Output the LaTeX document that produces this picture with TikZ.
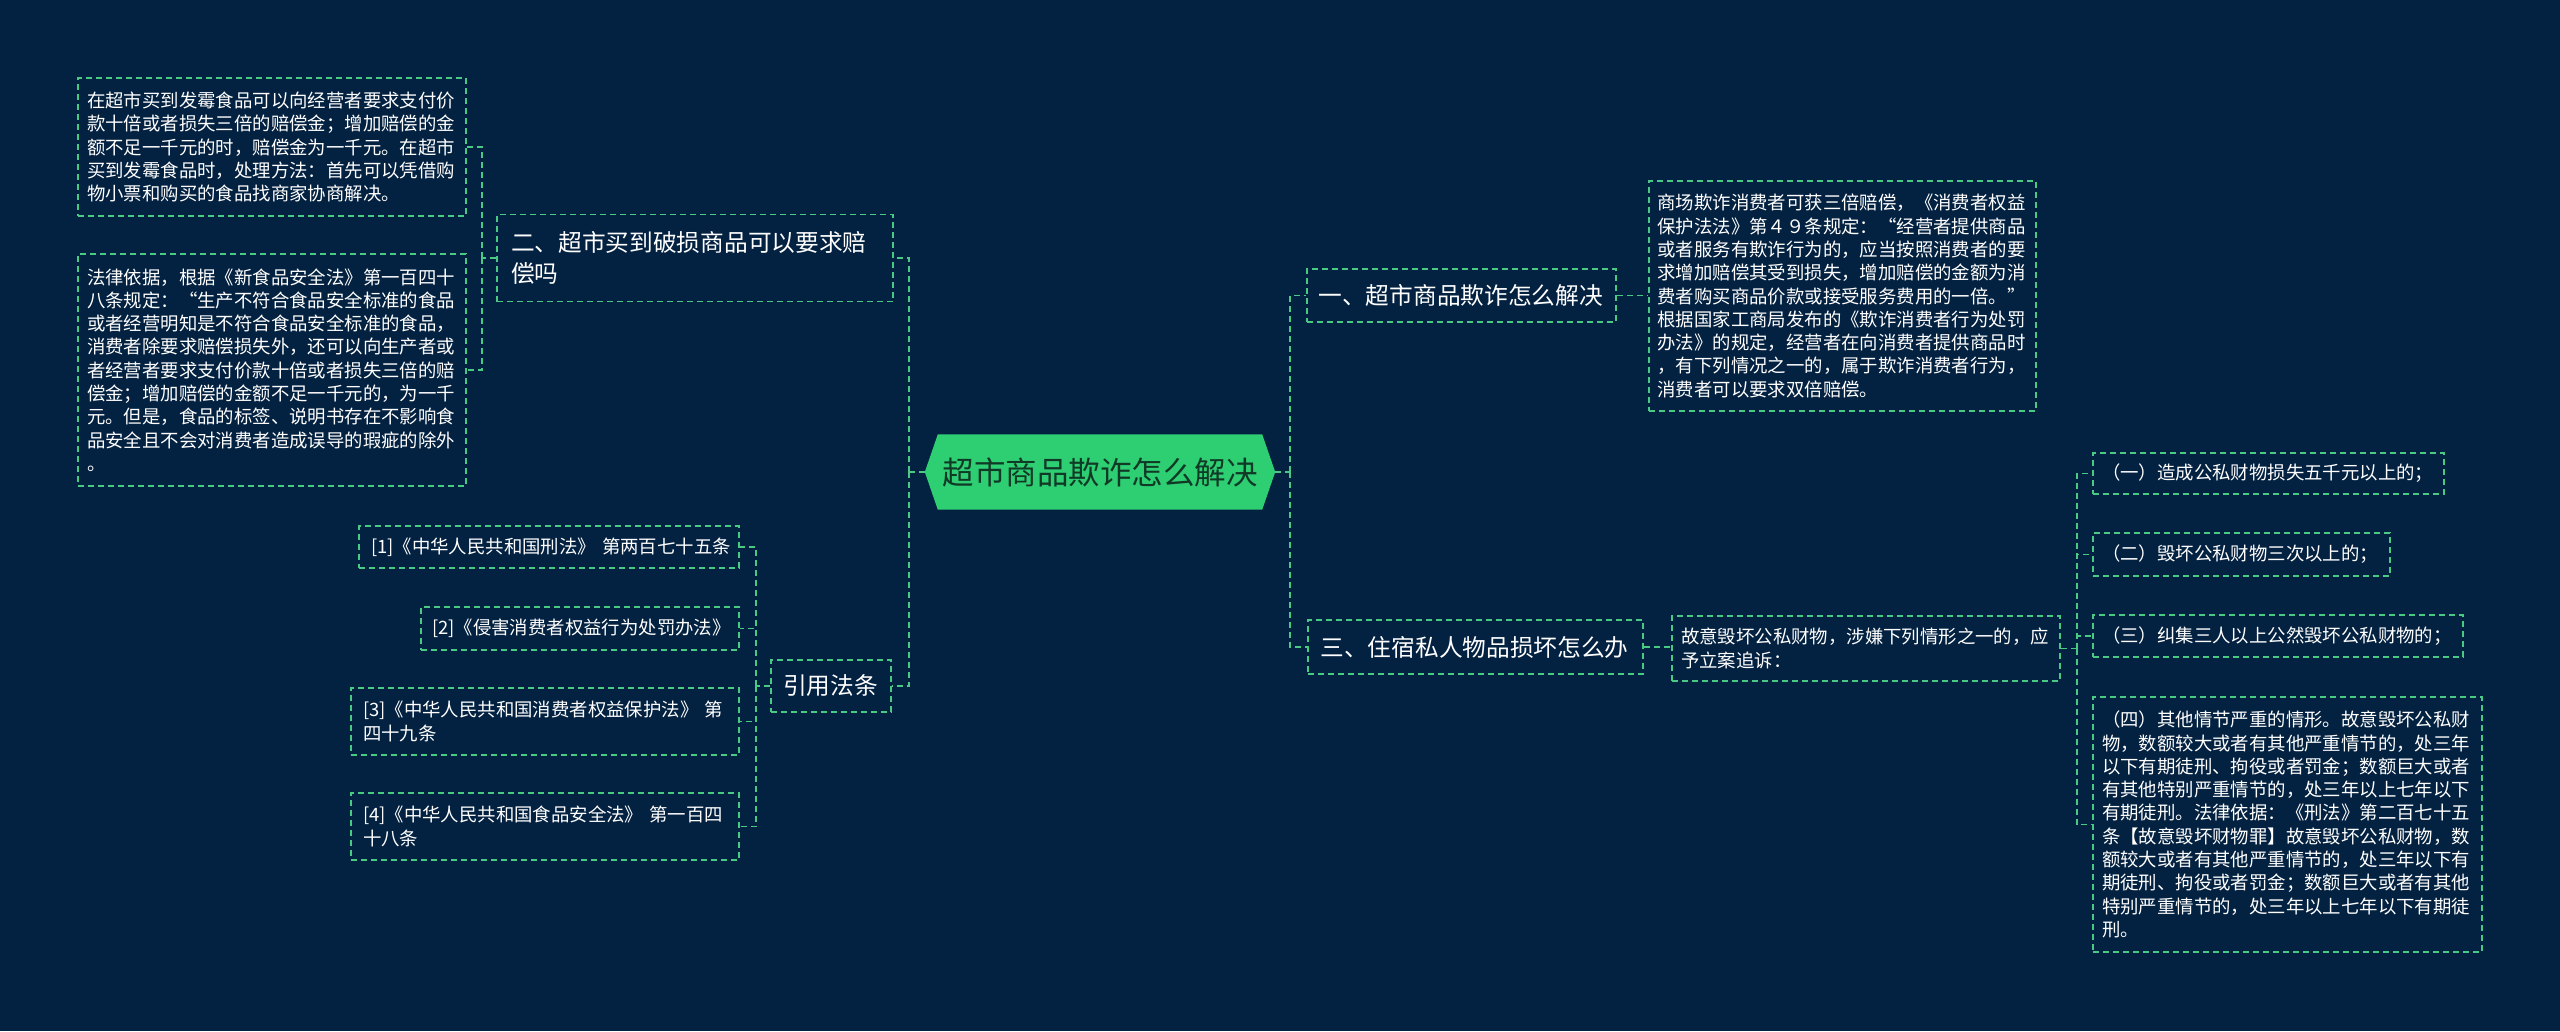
\documentclass[tikz,border=0pt]{standalone}
\usepackage{fontspec}
\setmainfont{Noto Sans CJK SC}
\newfontfamily\cjk{Noto Sans CJK SC}
\definecolor{bgcol}{RGB}{3,33,64}
\definecolor{lg}{RGB}{72,201,132}
\definecolor{rootfill}{RGB}{46,206,115}
\definecolor{roottext}{RGB}{16,58,38}
\pgfdeclarelayer{bg}
\pgfsetlayers{bg,main}
\tikzset{
  lbox/.style={draw=lg, line width=1.5pt, dash pattern=on 6pt off 4pt, text=white,
    font=\cjk\fontsize{18.4pt}{23.3pt}\selectfont, align=left, inner ysep=0pt, anchor=center},
  hbox/.style={lbox, font=\cjk\fontsize{23.7pt}{31pt}\selectfont},
  conn/.style={draw=lg, line width=1.5pt, dash pattern=on 6pt off 4pt},
  rootnode/.style={minimum width=350pt, minimum height=75pt, inner sep=0pt, text=roottext,
    font=\cjk\fontsize{31.5pt}{36pt}\selectfont},
}
\begin{document}
\begin{tikzpicture}[x=1pt,y=-1pt]
\node[rootnode] (root) at (1100,472) {超市商品欺诈怎么解决};
\begin{pgfonlayer}{bg}
\fill[bgcol] (0,0) rectangle (2560,1031);
\fill[rootfill] (root.west) -- ([xshift=13pt]root.north west) -- ([xshift=-13pt]root.north east)
  -- (root.east) -- ([xshift=-13pt]root.south east) -- ([xshift=13pt]root.south west) -- cycle;
\end{pgfonlayer}

% left side
\node[hbox, text width=368pt, inner xsep=14pt, minimum height=87pt] (n2) at (695,258)
  {二、超市买到破损商品可以要求赔\\偿吗};
\node[lbox, text width=370pt, inner xsep=9pt, minimum height=138pt] (la) at (272,147)
  {在超市买到发霉食品可以向经营者要求支付价\\款十倍或者损失三倍的赔偿金；增加赔偿的金\\额不足一千元的时，赔偿金为一千元。在超市\\买到发霉食品时，处理方法：首先可以凭借购\\物小票和购买的食品找商家协商解决。};
\node[lbox, text width=370pt, inner xsep=9pt, minimum height=232pt] (lb) at (272,370)
  {法律依据，根据《新食品安全法》第一百四十\\八条规定：“生产不符合食品安全标准的食品\\或者经营明知是不符合食品安全标准的食品，\\消费者除要求赔偿损失外，还可以向生产者或\\者经营者要求支付价款十倍或者损失三倍的赔\\偿金；增加赔偿的金额不足一千元的，为一千\\元。但是，食品的标签、说明书存在不影响食\\品安全且不会对消费者造成误导的瑕疵的除外\\。};
\node[hbox, text width=96pt, inner xsep=12pt, minimum height=52pt] (cite) at (831,686) {引用法条};
\node[lbox, text width=356pt, inner xsep=12pt, minimum height=42pt] (c1) at (549,547)
  {\mbox{[1]《中华人民共和国刑法》 第两百七十五条}};
\node[lbox, text width=296pt, inner xsep=11pt, minimum height=43pt] (c2) at (580,628.5)
  {\mbox{[2]《侵害消费者权益行为处罚办法》}};
\node[lbox, text width=364pt, inner xsep=12pt, minimum height=67pt] (c3) at (545,721.5)
  {\mbox{[3]《中华人民共和国消费者权益保护法》 第}\\四十九条};
\node[lbox, text width=364pt, inner xsep=12pt, minimum height=67pt] (c4) at (545,826.5)
  {\mbox{[4]《中华人民共和国食品安全法》 第一百四}\\十八条};

% right side
\node[hbox, text width=286pt, inner xsep=11.5pt, minimum height=53pt] (r1) at (1461.5,295.5)
  {一、超市商品欺诈怎么解决};
\node[lbox, text width=370pt, inner xsep=8.5pt, minimum height=230pt] (r1t) at (1842.5,296)
  {商场欺诈消费者可获三倍赔偿，《消费者权益\\保护法法》第４９条规定：“经营者提供商品\\或者服务有欺诈行为的，应当按照消费者的要\\求增加赔偿其受到损失，增加赔偿的金额为消\\费者购买商品价款或接受服务费用的一倍。”\\根据国家工商局发布的《欺诈消费者行为处罚\\办法》的规定，经营者在向消费者提供商品时\\，有下列情况之一的，属于欺诈消费者行为，\\消费者可以要求双倍赔偿。};
\node[hbox, text width=310pt, inner xsep=12.5pt, minimum height=54pt] (r3) at (1475.5,647)
  {三、住宿私人物品损坏怎么办};
\node[lbox, text width=370pt, inner xsep=9pt, minimum height=65pt] (r3t) at (1866,648.5)
  {故意毁坏公私财物，涉嫌下列情形之一的，应\\予立案追诉：};
\node[lbox, text width=333pt, inner xsep=9pt, minimum height=41pt] (d1) at (2268.5,473.5)
  {（一）造成公私财物损失五千元以上的；};
\node[lbox, text width=279pt, inner xsep=9pt, minimum height=43pt] (d2) at (2241.5,554.5)
  {（二）毁坏公私财物三次以上的；};
\node[lbox, text width=352pt, inner xsep=9pt, minimum height=42pt] (d3) at (2278,636)
  {（三）纠集三人以上公然毁坏公私财物的；};
\node[lbox, text width=371pt, inner xsep=9pt, minimum height=255pt] (d4) at (2287.5,824.5)
  {（四）其他情节严重的情形。故意毁坏公私财\\物，数额较大或者有其他严重情节的，处三年\\以下有期徒刑、拘役或者罚金；数额巨大或者\\有其他特别严重情节的，处三年以上七年以下\\有期徒刑。法律依据：《刑法》第二百七十五\\条【故意毁坏财物罪】故意毁坏公私财物，数\\额较大或者有其他严重情节的，处三年以下有\\期徒刑、拘役或者罚金；数额巨大或者有其他\\特别严重情节的，处三年以上七年以下有期徒\\刑。};

% connectors
\coordinate (lt) at (909,472);
\draw[conn] (root.west) -- (lt);
\draw[conn] (lt) |- (n2.east);
\draw[conn] (lt) |- (cite.east);
\coordinate (at) at (482,258);
\draw[conn] (n2.west) -- (at);
\draw[conn] (at) |- (la.east);
\draw[conn] (at) |- (lb.east);
\coordinate (ct) at (756,686);
\draw[conn] (cite.west) -- (ct);
\draw[conn] (ct) |- (c1.east);
\draw[conn] (ct) |- (c2.east);
\draw[conn] (ct) |- (c3.east);
\draw[conn] (ct) |- (c4.east);

\coordinate (rt) at (1290,472);
\draw[conn] (root.east) -- (rt);
\draw[conn] (rt) |- (r1.west);
\draw[conn] (rt) |- (r3.west);
\draw[conn] (r1.east) -- (r1.east -| r1t.west);
\draw[conn] (r3.east) -- (r3.east -| r3t.west);
\coordinate (dt) at (2077,648.5);
\draw[conn] (r3t.east) -- (dt);
\draw[conn] (dt) |- (d1.west);
\draw[conn] (dt) |- (d2.west);
\draw[conn] (dt) |- (d3.west);
\draw[conn] (dt) |- (d4.west);
\end{tikzpicture}
\end{document}
